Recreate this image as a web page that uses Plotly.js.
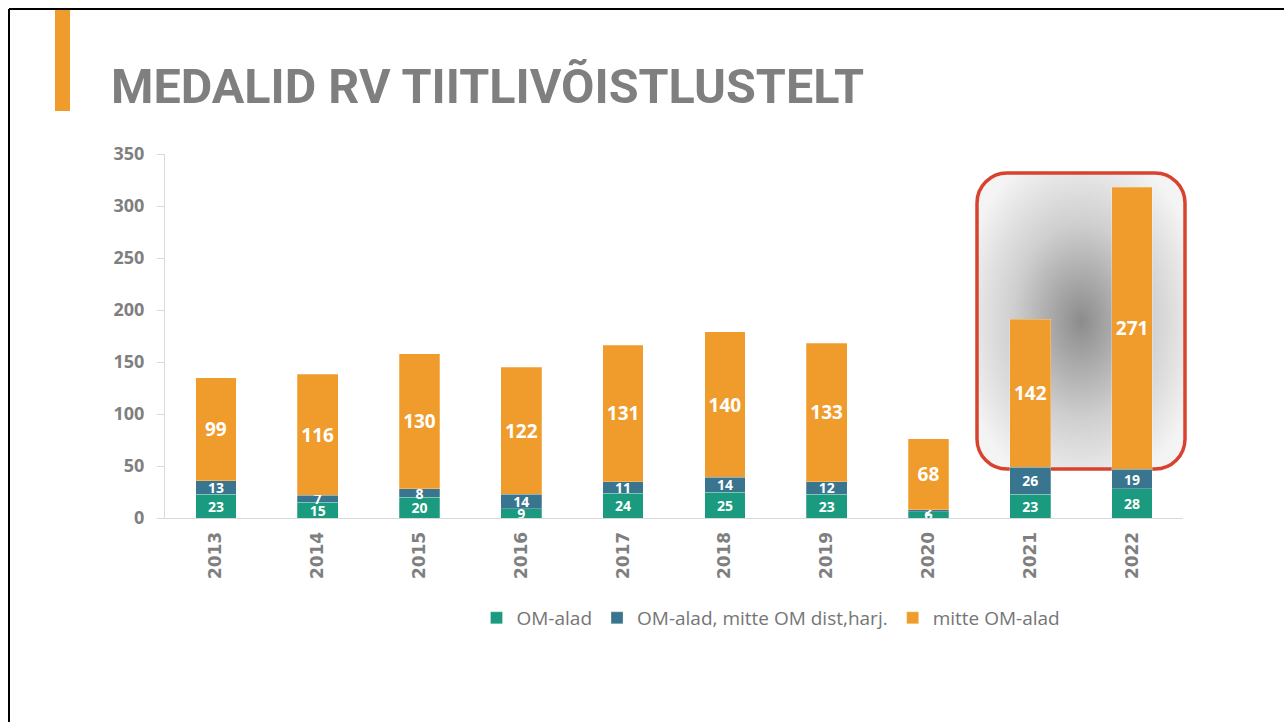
<!DOCTYPE html>
<html><head><meta charset="utf-8">
<script src="https://cdn.plot.ly/plotly-3.0.1.min.js"></script>
<style>html,body{margin:0;padding:0;background:#fff;}#chart{width:1284px;height:722px;}</style>
</head><body><div id="chart"></div>
<script>
const years = ['2013','2014','2015','2016','2017','2018','2019','2020','2021','2022'];
const omAlad = [23,15,20,9,24,25,23,6,23,28];
const omMitteDist = [13,7,8,14,11,14,12,2,26,19];
const mitteOm = [99,116,130,122,131,140,133,68,142,271];
const seriesNames = ['OM-alad','OM-alad, mitte OM dist,harj.','mitte OM-alad'];
const titleText = 'MEDALID RV TIITLIVÕISTLUSTELT';

const W = 1284, H = 722;
const M = {l:165, r:101, t:154, b:204};
const pw = W - M.l - M.r, ph = H - M.t - M.b;
const px = x => (x - M.l) / pw;
const py = y => (H - M.b - y) / ph;

const colors = ['#1a9a7e','#39758f','#f09c2c'];

function barTrace(vals, i, size){
  return {
    type:'bar', x:years, y:vals, name:seriesNames[i],
    marker:{color:colors[i], line:{color:'rgba(255,255,255,0.5)', width:0.5}},
    text:vals.map(String), textposition:'inside', insidetextanchor:'middle',
    textangle:0, constraintext:'none', cliponaxis:false,
    textfont:{family:'"Open Sans", sans-serif', size:size, weight:'bold', color:'#ffffff'},
    hoverinfo:'skip'
  };
}
const data = [barTrace(omAlad,0,14), barTrace(omMitteDist,1,14), barTrace(mitteOm,2,19)];

const svg = `<svg xmlns="http://www.w3.org/2000/svg" width="212" height="300" viewBox="0 0 212 300">
<defs><radialGradient id="g" cx="50%" cy="50%" r="60%">
<stop offset="0" stop-color="#8c8c8c"/><stop offset="0.55" stop-color="#cfcfcf"/><stop offset="1" stop-color="#f4f4f4"/></radialGradient></defs>
<rect x="2" y="2" width="208" height="296" rx="30" ry="30" fill="url(#g)" stroke="#d8432f" stroke-width="3.5"/></svg>`;
const src = 'data:image/svg+xml;base64,' + btoa(svg);

const layout = {
  width:W, height:H, margin:M, paper_bgcolor:'#fff', plot_bgcolor:'rgba(0,0,0,0)',
  barmode:'stack', bargap:0.6, showlegend:true,
  title:{text:titleText, font:{family:'Roboto, sans-serif', size:48.5, weight:'bold', color:'#7f7f7f'},
    xref:'container', yref:'container', x:111/W, xanchor:'left', y:1-86/H, yanchor:'middle'},
  xaxis:{type:'category', showline:true, linecolor:'#d9d9d9', linewidth:1, ticks:'', tickangle:-90,
    tickfont:{family:'DejaVu Sans', size:17, weight:'bold', color:'#7f7f7f'}, ticklabelstandoff:6, fixedrange:true},
  yaxis:{range:[0,350], dtick:50, showgrid:false, zeroline:false, showline:true, linecolor:'#d9d9d9', linewidth:1,
    ticks:'outside', ticklen:7, tickcolor:'#d9d9d9',
    tickfont:{family:'"Open Sans", sans-serif', size:18, weight:'bold', color:'#7f7f7f'}, ticklabelstandoff:9},
  legend:{orientation:'h', traceorder:'normal', x:px(771), xanchor:'center', y:py(618), yanchor:'middle',
    font:{family:'"Open Sans", sans-serif', size:19, color:'#757575'}, itemwidth:30, tracegroupgap:0},
  images:[{source:src, xref:'paper', yref:'paper', x:px(975), y:py(171), sizex:px(1187)-px(975), sizey:py(171)-py(471),
    sizing:'stretch', xanchor:'left', yanchor:'top', layer:'below'}],
  shapes:[
    {type:'line', xref:'paper', yref:'paper', x0:px(9), x1:px(1290), y0:py(9), y1:py(9), line:{color:'#000', width:2}},
    {type:'line', xref:'paper', yref:'paper', x0:px(9), x1:px(9), y0:py(9), y1:py(730), line:{color:'#000', width:2}},
    {type:'rect', xref:'paper', yref:'paper', x0:px(55), x1:px(70), y0:py(10), y1:py(111), fillcolor:'#f09c2c', line:{width:0}}
  ]
};
Plotly.newPlot('chart', data, layout, {displayModeBar:false, staticPlot:true});
</script></body></html>
